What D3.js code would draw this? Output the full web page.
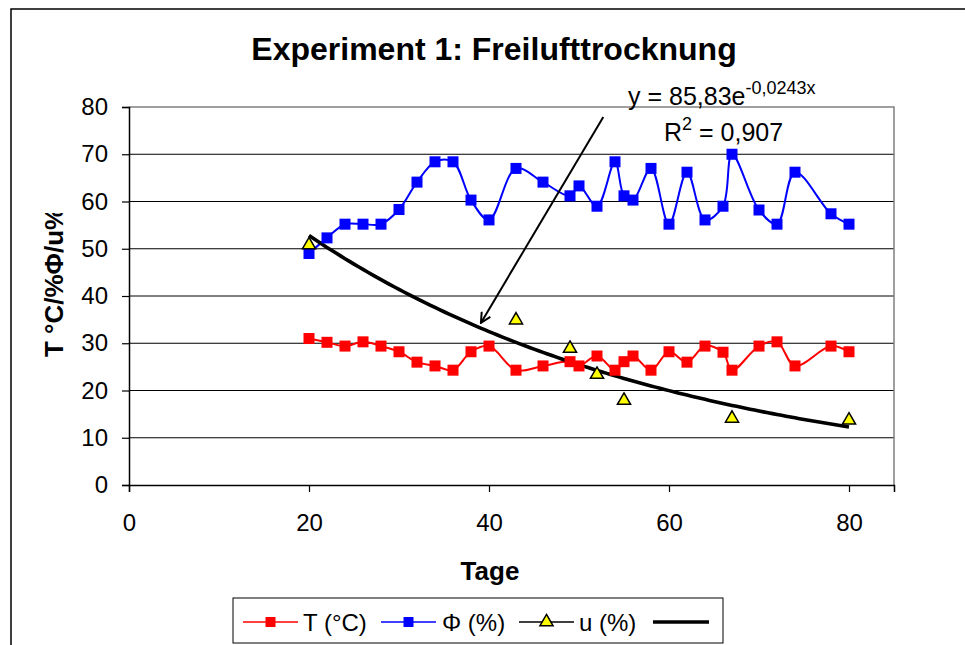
<!DOCTYPE html>
<html>
<head>
<meta charset="utf-8">
<script src="https://cdn.jsdelivr.net/npm/d3@7"></script>
<style>
  html, body { margin: 0; padding: 0; background: #fff; }
  svg { display: block; font-family: "Liberation Sans", Arial, sans-serif; }
</style>
</head>
<body>
<svg id="chart" width="965" height="645"></svg>
<script>
// Measurement days
const days = [20, 22, 24, 26, 28, 30, 32, 34, 36, 38, 40, 43, 46, 49, 50, 52, 54, 55, 56, 58, 60, 62, 64, 66, 67, 70, 72, 74, 78, 80];
// Air temperature T (°C)
const tempValues = [31.0, 30.2, 29.4, 30.3, 29.4, 28.2, 26.0, 25.2, 24.3, 28.2, 29.4, 24.3, 25.2, 26.1, 25.2, 27.3, 24.3, 26.1, 27.3, 24.3, 28.2, 26.0, 29.4, 28.1, 24.3, 29.4, 30.3, 25.2, 29.4, 28.2];
// Relative humidity Φ (%)
const phiValues = [49.0, 52.3, 55.2, 55.2, 55.2, 58.3, 64.1, 68.4, 68.4, 60.3, 56.1, 67.0, 64.1, 61.2, 63.3, 59.0, 68.4, 61.2, 60.3, 67.0, 55.2, 66.2, 56.1, 59.0, 70.0, 58.2, 55.2, 66.2, 57.4, 55.2];
// Wood moisture u (%)
const uDays = [20, 43, 49, 52, 55, 67, 80];
const uValues = [51.0, 35.1, 29.1, 23.6, 18.1, 14.3, 13.9];
// Exponential fit of u: y = a·e^(b·x)
const fitA = 85.83;
const fitB = -0.0243;
const fitR2 = 0.907;
const fitRange = [20, 80];
// Axis ticks
const xTicks = [0, 20, 40, 60, 80];
const yTicks = [0, 10, 20, 30, 40, 50, 60, 70, 80];

const fmt = v => String(v).replace(".", ",");

const svg = d3.select("#chart");

// Outer chart frame
svg.append("rect")
  .attr("x", 11).attr("y", 9).attr("width", 980).attr("height", 660)
  .attr("fill", "#fff").attr("stroke", "#000").attr("stroke-width", 1.5);

const plot = { left: 129, right: 894, top: 107, bottom: 485 };
const x = d3.scaleLinear().domain([0, 85]).range([plot.left, plot.right]);
const y = d3.scaleLinear().domain([0, 80]).range([plot.bottom, plot.top]);

// Title
svg.append("text")
  .attr("x", 494).attr("y", 60)
  .attr("text-anchor", "middle")
  .attr("font-size", 32).attr("font-weight", "bold")
  .text("Experiment 1: Freilufttrocknung");

// Horizontal gridlines
svg.append("g").selectAll("line")
  .data(yTicks.filter(t => t > 0 && t < 80))
  .join("line")
  .attr("x1", plot.left).attr("x2", plot.right)
  .attr("y1", d => y(d)).attr("y2", d => y(d))
  .attr("stroke", "#000").attr("stroke-width", 1);

// Plot area frame (top and right)
svg.append("path")
  .attr("d", `M${plot.left},${plot.top}H${plot.right}V${plot.bottom}`)
  .attr("fill", "none").attr("stroke", "#808080").attr("stroke-width", 1.5);

// Axes
const xAxis = svg.append("g")
  .attr("transform", `translate(0,${plot.bottom})`)
  .call(d3.axisBottom(x).tickValues(xTicks).tickSize(7).tickFormat(d3.format("d")));
const yAxis = svg.append("g")
  .attr("transform", `translate(${plot.left},0)`)
  .call(d3.axisLeft(y).tickValues(yTicks).tickSize(7).tickPadding(14).tickFormat(d3.format("d")));
[xAxis, yAxis].forEach(g => {
  g.select(".domain").attr("stroke", "#000").attr("stroke-width", 1.5);
  g.selectAll(".tick line").attr("stroke", "#000").attr("stroke-width", 1.2);
  g.selectAll(".tick text").attr("font-size", 24).attr("fill", "#000")
    .attr("font-family", "'Liberation Sans', Arial, sans-serif");
});
xAxis.selectAll(".tick text").attr("y", 46).attr("dy", 0);

// Axis titles
svg.append("text")
  .attr("x", 490).attr("y", 580)
  .attr("text-anchor", "middle")
  .attr("font-size", 26).attr("font-weight", "bold")
  .text("Tage");

svg.append("defs").append("clipPath").attr("id", "ylabel-clip")
  .append("rect").attr("x", 20).attr("y", 213).attr("width", 60).attr("height", 170);
svg.append("g").attr("clip-path", "url(#ylabel-clip)")
  .append("text")
  .attr("transform", "translate(63,357) rotate(-90)")
  .attr("text-anchor", "start")
  .attr("font-size", 26).attr("font-weight", "bold")
  .text("T °C/%Φ/u%");

// Smoothed series lines
const smooth = d3.line()
  .x(d => x(d[0])).y(d => y(d[1]))
  .curve(d3.curveCatmullRom.alpha(0.5));

const series = [
  { values: tempValues, color: "#ff0000" },
  { values: phiValues, color: "#0000ff" }
];

series.forEach(s => {
  const pts = days.map((d, i) => [d, s.values[i]]);
  svg.append("path")
    .attr("d", smooth(pts))
    .attr("fill", "none").attr("stroke", s.color).attr("stroke-width", 2);
});

// Trendline of u
const fitPts = d3.range(fitRange[0], fitRange[1] + 0.001, 0.5)
  .map(t => [t, fitA * Math.exp(fitB * t)]);
svg.append("path")
  .attr("d", d3.line().x(d => x(d[0])).y(d => y(d[1]))(fitPts))
  .attr("fill", "none").attr("stroke", "#000").attr("stroke-width", 3.6)
  .attr("stroke-linejoin", "round");

// Square markers
series.forEach(s => {
  svg.append("g").selectAll("rect")
    .data(days.map((d, i) => [d, s.values[i]]))
    .join("rect")
    .attr("x", d => x(d[0]) - 5.5).attr("y", d => y(d[1]) - 5.5)
    .attr("width", 11).attr("height", 11)
    .attr("fill", s.color);
});

// Triangle markers of u
const tri = d3.symbol().type(d3.symbolTriangle).size(75);
svg.append("g").selectAll("path")
  .data(uDays.map((d, i) => [d, uValues[i]]))
  .join("path")
  .attr("d", tri)
  .attr("transform", d => `translate(${x(d[0])},${y(d[1]) + 1})`)
  .attr("fill", "#ffff00").attr("stroke", "#000").attr("stroke-width", 1.5);

// Annotation arrow pointing to the trendline
svg.select("defs").append("marker")
  .attr("id", "arrowhead")
  .attr("viewBox", "0 0 12 12").attr("refX", 11).attr("refY", 6)
  .attr("markerWidth", 12).attr("markerHeight", 12)
  .attr("markerUnits", "userSpaceOnUse")
  .attr("orient", "auto")
  .append("path")
  .attr("d", "M1,1L11,6L1,11")
  .attr("fill", "none").attr("stroke", "#000").attr("stroke-width", 2);

const arrowFrom = [52.7, 77.9];
const arrowTo = [39.1, 34.3];
svg.append("line")
  .attr("x1", x(arrowFrom[0])).attr("y1", y(arrowFrom[1]))
  .attr("x2", x(arrowTo[0])).attr("y2", y(arrowTo[1]))
  .attr("stroke", "#000").attr("stroke-width", 2)
  .attr("marker-end", "url(#arrowhead)");

// Fit equation and R²
const eq = svg.append("text")
  .attr("x", 628).attr("y", 105)
  .attr("font-size", 25);
eq.append("tspan").text(`y = ${fmt(fitA)}e`);
eq.append("tspan").attr("dy", -11).attr("font-size", 18).text(fmt(fitB) + "x");

const r2 = svg.append("text")
  .attr("x", 664).attr("y", 141)
  .attr("font-size", 25);
r2.append("tspan").text("R");
r2.append("tspan").attr("dy", -11).attr("font-size", 18).text("2");
r2.append("tspan").attr("dy", 11).text(" = " + fmt(fitR2));

// Legend
const legend = svg.append("g");
legend.append("rect")
  .attr("x", 233).attr("y", 598).attr("width", 490).attr("height", 45)
  .attr("fill", "#fff").attr("stroke", "#000").attr("stroke-width", 1);

const legendItems = [
  { label: "T (°C)", color: "#ff0000", marker: "square", x0: 243, x1: 298, tx: 303 },
  { label: "Φ (%)", color: "#0000ff", marker: "square", x0: 381, x1: 436, tx: 442 },
  { label: "u (%)", color: "#000", marker: "triangle", x0: 519, x1: 574, tx: 579 },
  { label: "", color: "#000", marker: "none", x0: 653, x1: 709, tx: 0, width: 3.6 }
];
const ly = 622;
legendItems.forEach(it => {
  legend.append("line")
    .attr("x1", it.x0).attr("x2", it.x1).attr("y1", ly).attr("y2", ly)
    .attr("stroke", it.color).attr("stroke-width", it.width || 1.5);
  const cx = (it.x0 + it.x1) / 2;
  if (it.marker === "square") {
    legend.append("rect")
      .attr("x", cx - 5).attr("y", ly - 5).attr("width", 10).attr("height", 10)
      .attr("fill", it.color);
  } else if (it.marker === "triangle") {
    legend.append("path")
      .attr("d", tri)
      .attr("transform", `translate(${cx},${ly})`)
      .attr("fill", "#ffff00").attr("stroke", "#000").attr("stroke-width", 1.5);
  }
  if (it.label) {
    legend.append("text")
      .attr("x", it.tx).attr("y", ly + 8.5)
      .attr("font-size", 24)
      .text(it.label);
  }
});
</script>
</body>
</html>
